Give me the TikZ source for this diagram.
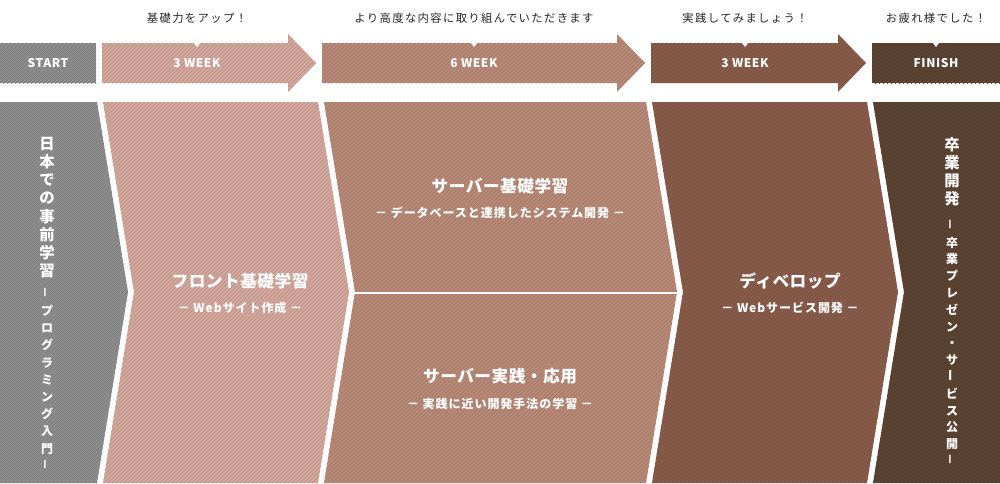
\documentclass[tikz,border=0pt]{standalone}
\usepackage{fontspec}
\setmainfont{Noto Sans CJK JP}
\usetikzlibrary{patterns}
\definecolor{cA}{HTML}{8E8E8E}
\definecolor{cB}{HTML}{D4A89C}
\definecolor{cC}{HTML}{B98A78}
\definecolor{cD}{HTML}{8A5C4A}
\definecolor{cE}{HTML}{5C4434}
\tikzset{
 hatch/.style={fill=#1, postaction={pattern=north east lines, pattern color=#1!85!black}},
 toplbl/.style={font=\addfontfeatures{LetterSpace=12}\fontsize{8.5pt}{10pt}\selectfont, text=black!85},
 barlbl/.style={font=\bfseries\addfontfeatures{LetterSpace=5}\fontsize{9pt}{10pt}\selectfont, text=white},
 head/.style={font=\bfseries\addfontfeatures{LetterSpace=3}\fontsize{12.5pt}{14pt}\selectfont, text=white},
 sub/.style={font=\bfseries\addfontfeatures{LetterSpace=8}\fontsize{9pt}{10pt}\selectfont, text=white},
 vert/.style={text=white, align=center, anchor=north, inner sep=0pt},
}
\newcommand{\vd}{\rotatebox{90}{－}}
\newcommand{\vl}{\rotatebox{90}{ー}}
\begin{document}
\begin{tikzpicture}[x=0.75pt,y=-0.75pt]
\useasboundingbox (0,0) rectangle (1000,483);
% top bar
\path[hatch=cA] (0,43) rectangle (96,83);
\path[hatch=cB] (102,43) -- (288,43) -- (288,34) -- (316,63) -- (288,92) -- (288,83) -- (102,83) -- cycle;
\path[hatch=cC] (322,43) -- (617,43) -- (617,34) -- (645,63) -- (617,92) -- (617,83) -- (322,83) -- cycle;
\path[hatch=cD] (651,43) -- (838,43) -- (838,34) -- (866,63) -- (838,92) -- (838,83) -- (651,83) -- cycle;
\path[hatch=cE] (872,43) rectangle (1000,83);
\foreach \x in {197,474,745,936}{\fill[white] (\x-3,43) -- (\x+3,43) -- (\x,47) -- cycle;}
\node[barlbl] (s) at (48,63) {START};
\node[barlbl] (w1) at (197,63) {3 WEEK};
\node[barlbl] (w2) at (474,63) {6 WEEK};
\node[barlbl] (w3) at (745,63) {3 WEEK};
\node[barlbl] (f) at (936,63) {FINISH};
\node[toplbl] (t1) at (197,18) {基礎力をアップ！};
\node[toplbl] (t2) at (474,18) {より高度な内容に取り組んでいただきます};
\node[toplbl] (t3) at (745,18) {実践してみましょう！};
\node[toplbl] (t4) at (936,18) {お疲れ様でした！};
% columns
\path[hatch=cA] (0,102) -- (97,102) -- (128,292) -- (97,483) -- (0,483) -- cycle;
\path[hatch=cB] (103,102) -- (318,102) -- (349,292) -- (318,483) -- (103,483) -- (134,292) -- cycle;
\path[hatch=cC] (324,102) -- (646,102) -- (677,292) -- (646,483) -- (324,483) -- (355,292) -- cycle;
\path[hatch=cD] (652,102) -- (867,102) -- (898,292) -- (867,483) -- (652,483) -- (683,292) -- cycle;
\path[hatch=cE] (873,102) -- (1000,102) -- (1000,483) -- (873,483) -- (904,292) -- cycle;
\draw[white, line width=0.8pt] (355,293) -- (677,293);
% column 1
\node[vert, font=\bfseries\fontsize{11.5pt}{13.6pt}\selectfont] (v1) at (47,137) {日\\本\\で\\の\\事\\前\\学\\習};
\node[vert, font=\bfseries\fontsize{9pt}{12.9pt}\selectfont] (v1b) at (47,286) {\vd\\プ\\ロ\\グ\\ラ\\ミ\\ン\\グ\\入\\門\\\vd};
% column 5
\node[vert, font=\bfseries\fontsize{11.5pt}{13.6pt}\selectfont] (v5) at (952,137) {卒\\業\\開\\発};
\node[vert, font=\bfseries\fontsize{9pt}{12.6pt}\selectfont] (v5b) at (952,218) {\vd\\卒\\業\\プ\\レ\\ゼ\\ン\\・\\サ\\\vl\\ビ\\ス\\公\\開\\\vd};
% texts
\node[head] (h2) at (240,281) {フロント基礎学習};
\node[sub] (s2) at (240,308) {－ Webサイト作成 －};
\node[head] (h3) at (500,186) {サーバー基礎学習};
\node[sub] (s3) at (500,213) {－ データベースと連携したシステム開発 －};
\node[head] (h4) at (500,376) {サーバー実践・応用};
\node[sub] (s4) at (500,404) {－ 実践に近い開発手法の学習 －};
\node[head] (h5) at (790,281) {ディベロップ};
\node[sub] (s5) at (790,308) {－ Webサービス開発 －};
\end{tikzpicture}
\end{document}
